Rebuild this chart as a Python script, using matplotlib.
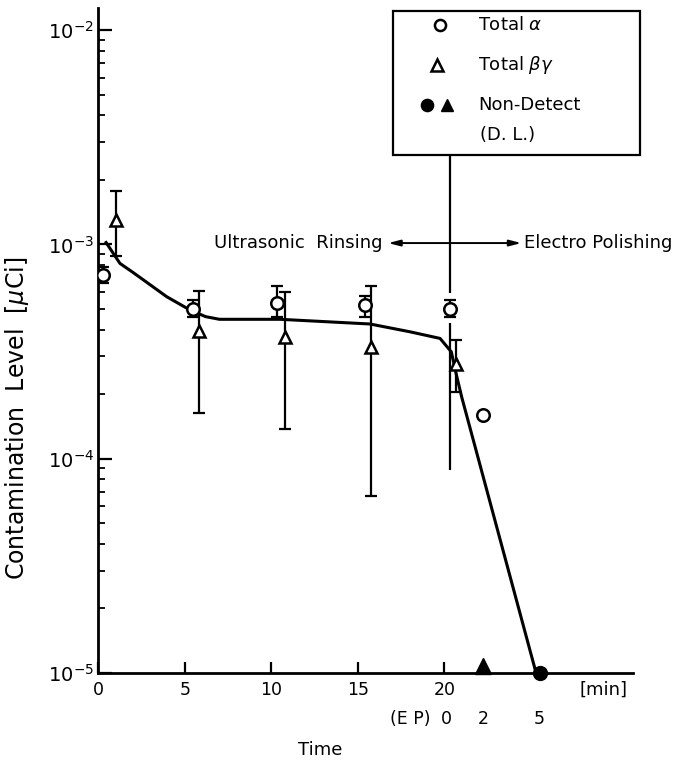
import matplotlib
matplotlib.use('Agg')
import matplotlib.pyplot as plt
from matplotlib.patches import Rectangle
from matplotlib.lines import Line2D
from matplotlib.markers import MarkerStyle
import matplotlib.transforms as mtransforms

# ultrasonic rinsing, time in min
alpha_t = [0.3, 5.5, 10.35, 15.4, 20.35]
alpha_v = [0.72e-3, 0.50e-3, 0.53e-3, 0.52e-3, 0.50e-3]
alpha_lo = [0.66e-3, 0.46e-3, 0.456e-3, 0.46e-3, 0.456e-3]
alpha_hi = [0.786e-3, 0.55e-3, 0.64e-3, 0.574e-3, 0.55e-3]

beta_t = [1.0, 5.8, 10.8, 15.75, 20.7]
beta_v = [1.30e-3, 0.395e-3, 0.371e-3, 0.333e-3, 0.276e-3]
beta_lo = [0.88e-3, 0.164e-3, 0.137e-3, 0.067e-3, 0.205e-3]
beta_hi = [1.78e-3, 0.607e-3, 0.600e-3, 0.641e-3, 0.358e-3]

# electro polishing, time in EP min
ep_alpha_t = [2]
ep_alpha_v = [0.16e-3]
nd_alpha_t = [5]
nd_beta_t = [2]
det_limit = 1e-5

# hand drawn trend line
curve_t = [0.45, 1.25, 2.0, 2.8, 3.95, 5.3, 6.2, 7.0, 10.5, 15.7, 18.0, 19.75, 20.4, 20.7, 21.0, 25.3]
curve_v = [1.02e-3, 0.815e-3, 0.74e-3, 0.665e-3, 0.57e-3, 0.494e-3, 0.46e-3, 0.447e-3, 0.447e-3,
           0.425e-3, 0.391e-3, 0.364e-3, 0.315e-3, 0.245e-3, 0.194e-3, 1e-5]

x_ticks = [0, 5, 10, 15, 20]
ep_ticks = [0, 2, 5]


def ep_to_t(ep):
    return 20.1 + 1.08 * ep


def px(x, y):
    # pixel position -> figure fraction
    return x / 698, 1 - y / 760


plt.rcParams['font.family'] = 'DejaVu Sans'
fs = 13

fig = plt.figure(figsize=(6.98, 7.6), dpi=100)
ax = fig.add_axes([98.3 / 698, 1 - 673 / 760, (633 - 98.3) / 698, 665 / 760])
ax.set_yscale('log')
ax.set_xlim(0, 30.9)
ax.set_ylim(1e-5, 12.67e-3)

# trend line
ax.plot(curve_t, curve_v, 'k-', lw=2.2, zorder=2)

# error bars
a_err = [[v - lo for v, lo in zip(alpha_v, alpha_lo)], [hi - v for v, hi in zip(alpha_v, alpha_hi)]]
b_err = [[v - lo for v, lo in zip(beta_v, beta_lo)], [hi - v for v, hi in zip(beta_v, beta_hi)]]
ax.errorbar(alpha_t, alpha_v, yerr=a_err, fmt='none', ecolor='k', elinewidth=1.6, capsize=4, capthick=1.6, zorder=3)
ax.errorbar(beta_t, beta_v, yerr=b_err, fmt='none', ecolor='k', elinewidth=1.6, capsize=4, capthick=1.6, zorder=3)

ax.plot(alpha_t, alpha_v, 'o', ms=9, mfc='white', mec='k', mew=1.8, zorder=4)
ax.plot(beta_t, beta_v, '^', ms=9, mfc='white', mec='k', mew=1.8, zorder=4)

# non-detect triangle sits on the axis, base at the point
tri_up = MarkerStyle('^', transform=mtransforms.Affine2D().translate(0, 0.45))
ax.plot([ep_to_t(t) for t in ep_alpha_t], ep_alpha_v, 'o', ms=9, mfc='white', mec='k', mew=1.8, zorder=4)
ax.plot([ep_to_t(t) for t in nd_alpha_t], [det_limit] * len(nd_alpha_t), 'o', ms=10, color='k', zorder=5, clip_on=False)
ax.plot([ep_to_t(t) for t in nd_beta_t], [det_limit] * len(nd_beta_t), marker=tri_up, ms=11.5, color='k',
        linestyle='none', zorder=5, clip_on=False)

# boundary rinsing / polishing
ax.vlines(20.35, 0.59e-3, 2.61e-3, color='k', lw=1.6, clip_on=False)
ax.vlines(20.3, 0.089e-3, 0.43e-3, color='k', lw=1.6)
ax.annotate('', xy=(16.75, 1.014e-3), xytext=(24.45, 1.014e-3),
            arrowprops=dict(arrowstyle='<|-|>,head_length=0.7,head_width=0.18', color='k', lw=1.4,
                            shrinkA=0, shrinkB=0))
ax.text(16.45, 1.014e-3, 'Ultrasonic  Rinsing', fontsize=fs, ha='right', va='center')
ax.text(24.6, 1.014e-3, 'Electro Polishing', fontsize=fs, ha='left', va='center', clip_on=False)

# axes style
for s in ['top', 'right']:
    ax.spines[s].set_visible(False)
for s in ['left', 'bottom']:
    ax.spines[s].set_linewidth(2)
ax.set_xticks(x_ticks)
ax.tick_params(axis='x', direction='in', length=8, width=1.6, labelsize=12.5, pad=6)
ax.tick_params(axis='y', which='major', direction='in', length=10, width=1.6, labelsize=14, pad=3)
ax.tick_params(axis='y', which='minor', direction='in', length=5, width=1.3)

trans = mtransforms.blended_transform_factory(ax.transData, ax.transAxes)
ax.text(29.2, -0.011, '[min]', fontsize=fs, ha='center', va='top', transform=trans)
for ep in ep_ticks:
    ax.text(ep_to_t(ep), -0.056, str(ep), fontsize=12.5, ha='center', va='top', transform=trans)
ax.text(ep_to_t(0) - 0.9, -0.056, '(E P)', fontsize=12.5, ha='right', va='top', transform=trans)

ax.set_xlabel('Time', fontsize=fs)
ax.xaxis.set_label_coords((320 - 98.3) / 534.7, -0.102)
ax.set_ylabel(r'Contamination  Level  [$\mu$Ci]', fontsize=17)
ax.yaxis.set_label_coords((31 - 98.3) / 534.7, (673 - 418) / 665)

# legend box drawn by hand
x0, y0 = px(393, 155)
x1, y1 = px(640, 10.7)
fig.add_artist(Rectangle((x0, y0), x1 - x0, y1 - y0, transform=fig.transFigure,
                         fill=False, ec='k', lw=1.6))
leg_items = [
    ('o', 'white', 440, 25, 'Total $\\alpha$'),
    ('^', 'white', 437, 65, 'Total $\\beta\\gamma$'),
    ('o', 'k', 427, 105, 'Non-Detect'),
]
for mk, fc, mx, my, lab in leg_items:
    fig.add_artist(Line2D([mx / 698], [1 - my / 760], marker=mk, ms=8, mfc=fc, mec='k', mew=1.8,
                          linestyle='none', transform=fig.transFigure))
    fig.text(478 / 698, 1 - my / 760, lab, fontsize=fs, va='center', ha='left')
fig.add_artist(Line2D([447 / 698], [1 - 105 / 760], marker='^', ms=9, color='k',
                      linestyle='none', transform=fig.transFigure))
fig.text(480 / 698, 1 - 135 / 760, '(D. L.)', fontsize=fs, va='center', ha='left')

fig.savefig('out.png', dpi=100)
